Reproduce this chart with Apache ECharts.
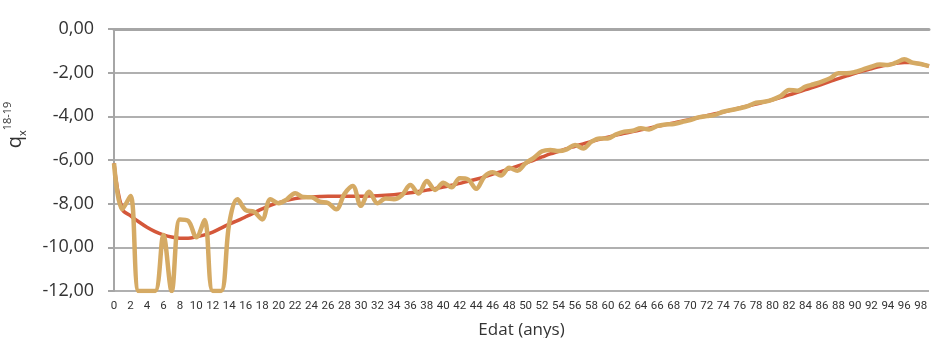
<!DOCTYPE html>
<html>
<head>
<meta charset="utf-8">
<title>qx 18-19</title>
<script src="https://cdn.jsdelivr.net/npm/echarts@6/dist/echarts.min.js"></script>
<style>
  html, body { margin: 0; padding: 0; background: #fff; }
  #main { width: 934px; height: 338px; }
</style>
</head>
<body>
<div id="main"></div>
<script type="text/javascript">
// edats 0..99
var ages = [];
for (var a = 0; a <= 99; a++) ages.push(String(a));

// corba ajustada (vermella)
var fitted = [
  -6.15, -8.25, -8.55, -8.83, -9.08, -9.28, -9.43, -9.53, -9.58, -9.58,
  -9.52, -9.43, -9.30, -9.12, -8.93, -8.78, -8.60, -8.42, -8.24, -8.08,
  -7.95, -7.85, -7.77, -7.72, -7.69, -7.67, -7.66, -7.66, -7.66, -7.66,
  -7.66, -7.65, -7.64, -7.62, -7.59, -7.55, -7.50, -7.44, -7.38, -7.31,
  -7.24, -7.16, -7.07, -6.98, -6.88, -6.77, -6.65, -6.53, -6.41, -6.28,
  -6.15, -6.00, -5.86, -5.72, -5.60, -5.48, -5.37, -5.26, -5.15, -5.05,
  -4.95, -4.86, -4.78, -4.70, -4.62, -4.54, -4.46, -4.38, -4.30, -4.22,
  -4.14, -4.05, -3.97, -3.88, -3.80, -3.71, -3.62, -3.53, -3.44, -3.34,
  -3.24, -3.13, -3.02, -2.90, -2.78, -2.66, -2.53, -2.40, -2.27, -2.15,
  -2.03, -1.92, -1.82, -1.72, -1.64, -1.57, -1.53, -1.54, -1.60, -1.70
];

// valors observats (daurat)
var observed = [
  -6.15, -8.26, -7.65, -12.00, -12.00, -12.00, -9.44, -12.00, -8.72, -8.78,
  -9.54, -8.75, -12.00, -12.00, -8.90, -7.80, -8.30, -8.37, -8.72, -7.80,
  -7.98, -7.80, -7.52, -7.70, -7.71, -7.91, -7.97, -8.26, -7.55, -7.19,
  -8.10, -7.45, -7.98, -7.76, -7.80, -7.60, -7.15, -7.53, -6.96, -7.37,
  -7.04, -7.25, -6.84, -6.89, -7.32, -6.76, -6.56, -6.71, -6.36, -6.49,
  -6.15, -5.90, -5.60, -5.54, -5.59, -5.51, -5.31, -5.47, -5.16, -5.01,
  -5.01, -4.83, -4.70, -4.66, -4.55, -4.60, -4.44, -4.37, -4.35, -4.26,
  -4.17, -4.05, -3.99, -3.93, -3.79, -3.71, -3.63, -3.53, -3.38, -3.33,
  -3.23, -3.07, -2.79, -2.83, -2.64, -2.53, -2.41, -2.26, -2.03, -2.03,
  -1.97, -1.85, -1.73, -1.63, -1.65, -1.54, -1.39, -1.54, -1.60, -1.70
];

var myChart = echarts.init(document.getElementById('main'));
myChart.setOption({
    animation: false,
    grid: { left: 114, right: 5, top: 29, bottom: 47, outerBoundsMode: 'none', containLabel: false },
    xAxis: {
        type: 'category',
        data: ages,
        boundaryGap: false,
        name: 'Edat (anys)',
        nameLocation: 'middle',
        nameGap: 31,
        nameTextStyle: { fontFamily: 'Open Sans', fontSize: 17, color: '#333' },
        axisLine: { lineStyle: { color: '#a6a6a6', width: 3 } },
        axisTick: { show: false },
        axisLabel: {
            interval: 1,
            margin: 9,
            fontFamily: 'Roboto',
            fontSize: 11.5,
            color: '#333'
        },
        splitLine: { show: false }
    },
    yAxis: {
        type: 'value',
        min: -12,
        max: 0,
        interval: 2,
        name: '{q|q}{sub|x}{sup|18-19}',
        nameLocation: 'middle',
        nameRotate: 90,
        nameGap: 86,
        nameTextStyle: {
            padding: [0, 0, 0, 70],
            rich: {
                q: { fontFamily: 'Open Sans', fontSize: 20, color: '#333', lineHeight: 26 },
                sub: { fontFamily: 'Open Sans', fontSize: 11, color: '#333', verticalAlign: 'bottom', lineHeight: 26, padding: [8, 0, 0, 0] },
                sup: { fontFamily: 'Open Sans', fontSize: 11, color: '#333', verticalAlign: 'top', lineHeight: 26, padding: [0, 0, 10, 0] }
            }
        },
        axisLine: { show: true, lineStyle: { color: '#a6a6a6', width: 2 } },
        axisTick: { show: true, length: 6, lineStyle: { color: '#a6a6a6', width: 2 } },
        axisLabel: {
            margin: 20,
            fontFamily: 'Open Sans',
            fontSize: 18,
            color: '#333',
            formatter: function (v) { return v.toFixed(2).replace('.', ','); }
        },
        splitLine: { lineStyle: { color: '#b0b0b0', width: 2 } }
    },
    series: [{
        name: 'ajust',
        type: 'line',
        data: fitted,
        smooth: 0.4,
        symbol: 'none',
        lineStyle: { color: '#d4573a', width: 3.5 }
    }, {
        name: 'observat',
        type: 'line',
        data: observed,
        smooth: 0.35,
        symbol: 'none',
        lineStyle: { color: '#d5aa64', width: 4.5 }
    }]
});
</script>
</body>
</html>
